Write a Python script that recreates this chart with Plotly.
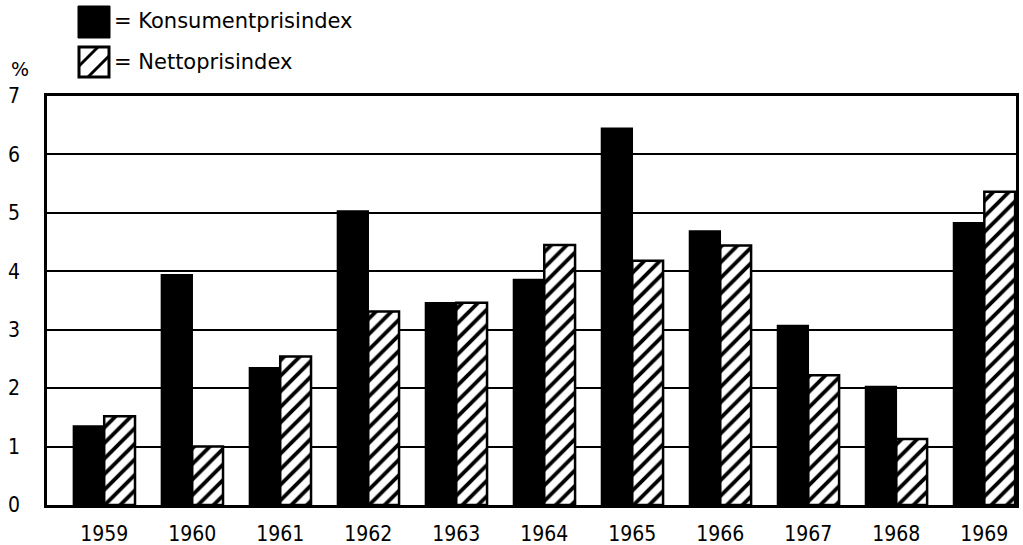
import plotly.graph_objects as go

years = ["1959", "1960", "1961", "1962", "1963", "1964", "1965", "1966", "1967", "1968", "1969"]
konsument = [1.35, 3.94, 2.35, 5.03, 3.46, 3.86, 6.45, 4.69, 3.07, 2.03, 4.83]
netto = [1.52, 1.0, 2.54, 3.31, 3.46, 4.45, 4.18, 4.44, 2.22, 1.13, 5.36]
y_ticks = [0, 1, 2, 3, 4, 5, 6, 7]
legend_labels = ["= Konsumentprisindex", "= Nettoprisindex"]

NARROW = "DejaVu Sans Condensed, DejaVu Sans"
REG = "DejaVu Sans, Liberation Sans"

L, R, T, B = 47, 1016, 96, 505
W, H = R - L, B - T

fig = go.Figure()
fig.add_trace(go.Bar(
    x=years, y=konsument, name=legend_labels[0],
    marker=dict(color="black", line=dict(color="black", width=1.5)),
))
fig.add_trace(go.Bar(
    x=years, y=netto, name=legend_labels[1],
    marker=dict(color="white", line=dict(color="black", width=2.5),
                pattern=dict(shape="/", fgcolor="black", bgcolor="white",
                             fgopacity=1, size=11, solidity=0.35)),
))

fig.update_layout(
    width=1023, height=545,
    margin=dict(l=L, r=1023 - R, t=T, b=545 - B, autoexpand=False),
    paper_bgcolor="white", plot_bgcolor="white",
    barmode="group", bargap=0.3, bargroupgap=0,
    showlegend=False,
    font=dict(family=NARROW, size=20, color="black"),
    xaxis=dict(
        type="category", range=[-0.65, 10.36],
        showgrid=False, showline=True, linecolor="black", linewidth=2.5,
        mirror=True, ticks="", ticklabelstandoff=8,
        tickfont=dict(family=NARROW, size=21),
    ),
    yaxis=dict(
        range=[0, 7], tickvals=y_ticks,
        showgrid=True, gridcolor="black", gridwidth=2,
        showline=True, linecolor="black", linewidth=2.5, mirror=True,
        ticks="", ticklabelstandoff=20, tickfont=dict(family=NARROW, size=21),
        zeroline=False,
    ),
)


def py(pix_y):
    return (B - pix_y) / H


def px(pix_x):
    return (pix_x - L) / W


fig.add_shape(type="rect", xref="paper", yref="paper",
              x0=px(78), x1=px(110), y0=py(38), y1=py(6),
              fillcolor="black", line=dict(color="black", width=1))
fig.add_shape(type="rect", xref="paper", yref="paper",
              x0=px(79), x1=px(109), y0=py(77), y1=py(47),
              fillcolor="white", line=dict(color="black", width=3))
fig.add_shape(type="line", xref="paper", yref="paper",
              x0=px(79), y0=py(66), x1=px(98), y1=py(47),
              line=dict(color="black", width=3))
fig.add_shape(type="line", xref="paper", yref="paper",
              x0=px(88), y0=py(77), x1=px(109), y1=py(56),
              line=dict(color="black", width=3))

fig.add_annotation(xref="paper", yref="paper", x=px(112), y=py(21),
                   text=legend_labels[0], showarrow=False, xanchor="left",
                   yanchor="middle", font=dict(family=REG, size=21))
fig.add_annotation(xref="paper", yref="paper", x=px(112), y=py(62),
                   text=legend_labels[1], showarrow=False, xanchor="left",
                   yanchor="middle", font=dict(family=REG, size=21))
fig.add_annotation(xref="paper", yref="paper", x=px(20), y=py(69),
                   text="%", showarrow=False, xanchor="center",
                   yanchor="middle", font=dict(family=REG, size=19))

fig.write_html("out.html", config={"displayModeBar": False},
               post_script="document.body.style.margin='0';")
